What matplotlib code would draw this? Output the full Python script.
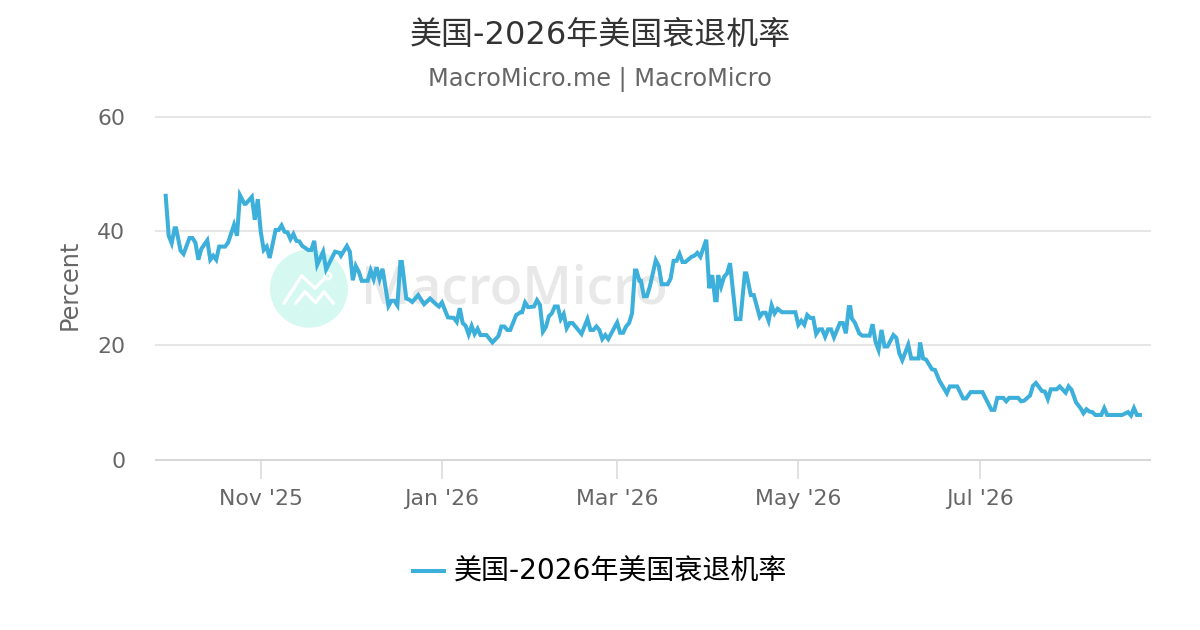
import matplotlib
matplotlib.use("Agg")
import matplotlib.pyplot as plt
import matplotlib.dates as mdates
from matplotlib.patches import Circle
import numpy as np

plt.rcParams['font.family'] = ['DejaVu Sans', 'Noto Sans CJK SC']

title = "美国-2026年美国衰退机率"
subtitle = "MacroMicro.me | MacroMicro"

start_date = np.datetime64('2025-09-30')
days = [0, 1, 2, 3, 3.5, 5, 6, 8, 9, 10, 11, 12, 14, 15, 16, 17, 18, 20, 21, 23, 24, 25, 26.5, 27, 29, 30, 31, 32, 33, 34,
        35, 37, 38, 39, 40, 41, 42, 43, 44, 45, 46, 48, 49, 50, 51, 53, 54, 57, 58.5, 59, 61, 62, 63, 64, 65, 66, 68, 69, 70, 71,
        72, 73, 75, 76, 77, 78, 79, 79.5, 81, 82, 83, 85, 87, 89, 91, 92, 93, 95, 97, 98, 99, 100, 101, 102, 103, 104, 105, 106, 108, 110,
        112, 113, 114, 115, 116, 118, 119.5, 120, 121, 122, 124, 125, 126, 127, 128, 129, 130, 131, 132, 133, 134, 135, 136, 137, 140, 142, 143, 144, 145, 146,
        147, 148, 149, 152, 153, 154, 155, 156, 157, 158, 158.5, 159.5, 160, 161, 162, 163, 165, 166, 167, 169, 170, 171, 172, 173, 174, 175, 177, 178, 179, 180,
        182, 183, 184, 185, 185.5, 186, 187, 188, 189, 190, 192, 193.5, 195, 195.5, 197, 198, 200, 201, 202, 203, 204, 205, 206, 207.5, 212, 213, 214, 215, 216, 217,
        218, 219, 220, 221, 222, 223, 224, 225, 227, 228, 229, 230, 230.5, 231, 232, 233.5, 234.5, 237, 238, 239, 240, 241, 242, 243, 245, 246, 247, 248, 250, 251,
        253.5, 254, 255, 256, 258, 259, 260.5, 263, 264, 266.5, 268.5, 269.5, 271, 275, 278, 279, 280, 282, 283, 284, 287, 288, 289, 291, 292, 293, 295, 296, 297, 298,
        300, 301, 303, 304, 305, 306.5, 308, 309, 310, 311, 312, 313, 315, 316, 317, 322, 324, 325, 326, 327, 328]
values = [46.2, 39.2, 37.9, 40.5, 40.5, 36.6, 36, 38.8, 38.8, 38, 35, 36.9, 38.4, 35, 35.7, 35, 37.3, 37.3, 38, 41.1, 39.2, 46.3, 44.8, 44.8, 46, 42, 45.6, 39.9, 36.7, 37.3,
          35.3, 40.2, 40.2, 41, 39.9, 39.8, 38.6, 39.5, 38.3, 38.2, 37.4, 36.7, 36.7, 38.3, 34.1, 36.4, 33.3, 36.4, 36.2, 35.7, 37.4, 36.4, 31.4, 33.9, 32.9, 31.3, 31.3, 33.1, 31.6, 33.7,
          31.6, 33.4, 26.9, 27.8, 27.8, 27, 34.6, 34.6, 28.2, 28, 27.6, 28.8, 27.2, 28.2, 27.2, 26.8, 27.5, 24.9, 24.8, 24.1, 26.5, 23.9, 23.4, 21.9, 23.4, 22, 22.9, 21.8, 21.8, 20.5,
          21.6, 23.3, 23.3, 22.7, 22.7, 25.3, 25.8, 25.8, 27.5, 26.7, 26.8, 27.9, 27.1, 22.4, 23.2, 25.1, 25.6, 26.8, 26.8, 24.6, 25.5, 23, 23.9, 23.9, 22, 24.6, 22.7, 22.7, 23.3, 22.7,
          21.1, 21.8, 21.1, 24, 22.2, 22.2, 23.3, 23.9, 25.6, 33.1, 33.1, 31.3, 31.3, 28.6, 28.6, 30.3, 34.9, 33.9, 30.7, 30.7, 31.7, 34.8, 34.8, 36, 34.6, 34.6, 35.5, 35.7, 36.2, 35.5,
          38.5, 30, 32.3, 27.9, 27.9, 32.3, 30.3, 32, 32.6, 34.4, 24.6, 24.6, 32.6, 32.6, 28.8, 28.8, 25, 25.7, 25.7, 24.3, 27, 25.6, 26.4, 25.8, 25.8, 23.6, 24.3, 23.6, 25.3, 24.8,
          24.8, 22, 22.8, 22.8, 21.5, 22.8, 22.8, 21.4, 23.9, 23.9, 22.1, 26.7, 26.7, 24.7, 24, 22.1, 21.7, 21.7, 23.7, 20.6, 19.2, 22.7, 19.8, 19.8, 21.8, 21.3, 18.6, 17.4, 20.1, 17.7,
          17.7, 20.5, 17.7, 17.5, 15.8, 15.7, 13.8, 11.6, 12.8, 12.8, 10.7, 10.7, 11.8, 11.8, 8.7, 8.7, 10.8, 10.8, 10.2, 10.8, 10.8, 10.2, 10.3, 11.2, 12.9, 13.4, 12, 11.9, 10.6, 12.3,
          12.3, 12.8, 11.7, 12.8, 12.2, 10, 9, 8.1, 8.8, 8.4, 8.3, 7.8, 7.8, 9, 7.8, 7.8, 8.3, 7.7, 9, 7.8, 7.8]

tick_dates = ['2025-11-01', '2026-01-01', '2026-03-01', '2026-05-01', '2026-07-01']
tick_labels = ["Nov '25", "Jan '26", "Mar '26", "May '26", "Jul '26"]
y_ticks = [0, 20, 40, 60]

dates = mdates.date2num(start_date) + np.array(days)

fig = plt.figure(figsize=(12, 6.3), dpi=100)

# watermark sits behind the chart, in pixel coordinates
bg = fig.add_axes([0, 0, 1, 1], zorder=0)
bg.set_xlim(0, 1200)
bg.set_ylim(630, 0)
bg.axis('off')
bg.add_patch(Circle((309, 288.7), 39, color='#d5f8f0', lw=0))
bg.plot([284, 301.7, 315, 325], [303.3, 275.7, 288.3, 278], color='white', lw=2.4, solid_capstyle='round')
bg.plot([295.7, 305, 315.7, 324, 333.3], [303.3, 291.7, 302.7, 291.7, 303.3], color='white', lw=2.4, solid_capstyle='round')
bg.add_patch(Circle((328, 276), 3.2, fc='#d5f8f0', ec='white', lw=1.8))
bg.text(361, 290, "MacroMicro", fontsize=38.5, color='#e8e8e8', family='Open Sans', fontweight='semibold', va='center', ha='left')

ax = fig.add_axes([156 / 1200, (630 - 459.5) / 630, 994 / 1200, 342.5 / 630], zorder=1)
ax.patch.set_alpha(0)
ax.plot(dates, values, color='#3cafda', lw=2.9, solid_joinstyle='miter', zorder=3, clip_on=False)

x0 = mdates.date2num(start_date)
ax.set_xlim(x0 - 3.27, x0 + 331.4)
ax.set_ylim(0, 60)

ax.set_yticks(y_ticks)
ax.set_xticks(mdates.date2num(np.array(tick_dates, dtype='datetime64[D]')))
ax.set_xticklabels(tick_labels)
ax.grid(axis='y', color='#e6e6e6', lw=1.45, clip_on=False)
ax.set_axisbelow(True)
for side in ['top', 'right', 'left']:
    ax.spines[side].set_visible(False)
ax.spines['bottom'].set_color('#d8d8d8')
ax.spines['bottom'].set_linewidth(1.45)
ax.tick_params(axis='x', length=14, width=1.1, color='#d8d8d8', labelcolor='#666666', labelsize=15.8, pad=7)
ax.tick_params(axis='y', length=0, labelcolor='#666666', labelsize=15.8, pad=22)
ax.set_ylabel("Percent", color='#666666', fontsize=17.3)
ax.yaxis.set_label_coords((82 - 156) / 994, 0.51)

fig.text(0.5, 1 - 35 / 630, title, ha='center', va='center', fontsize=23, color='#333333')
fig.text(0.5, 1 - 79 / 630, subtitle, ha='center', va='center', fontsize=17.3, color='#666666')

# legend drawn by hand so the key sits where the original has it
bg.plot([413, 444], [571, 571], color='#3cafda', lw=2.9)
bg.text(454, 572, title, ha='left', va='center', fontsize=20.2, color='black')

fig.savefig('out.png', dpi=100)
